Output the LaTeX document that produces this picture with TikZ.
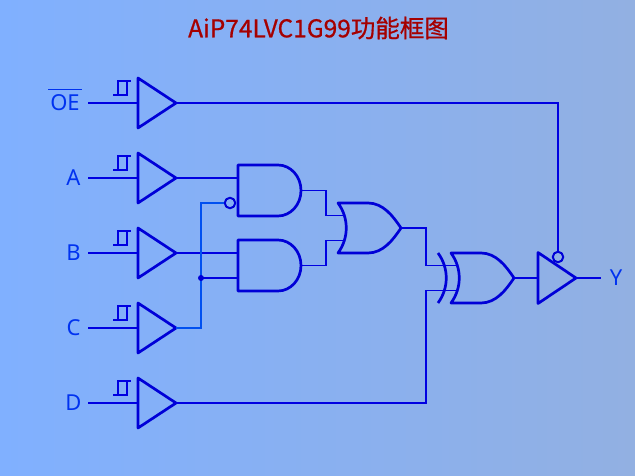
\documentclass[tikz,border=0pt]{standalone}
\usepackage{fontspec}
\setmainfont{Noto Sans}
\newfontfamily\cjk[FakeBold=0.7]{Noto Sans CJK SC}
\definecolor{bgleft}{RGB}{128,176,255}
\definecolor{bgright}{RGB}{146,176,226}
\definecolor{gateblue}{RGB}{0,0,215}
\definecolor{wireblue}{RGB}{0,0,225}
\definecolor{ctrlblue}{RGB}{0,80,240}
\definecolor{labelblue}{RGB}{0,50,240}
\definecolor{titlered}{RGB}{165,0,0}
\tikzset{
  gate/.style={draw=gateblue, line width=2.7pt, line join=round},
  wire/.style={draw=wireblue, line width=1.6pt},
  ctrl/.style={draw=ctrlblue, line width=1.4pt},
  pinlabel/.style={text=labelblue, font=\fontsize{22}{22}\selectfont, inner sep=0pt},
  bufgate/.pic={
    \draw[gate] (0,-25) -- (38,0) -- (0,25) -- cycle;
    \draw[wire] (-25,-8) -- (-11,-8) -- (-11,-22);
    \draw[wire] (-20,-8) -- (-20,-22) -- (-7,-22);
    \coordinate (-in) at (0,0);
    \coordinate (-out) at (38,0);
  },
  andgate/.pic={
    \draw[gate] (0,-25.5) -- (40,-25.5) arc[start angle=-90, end angle=90, x radius=23, y radius=25.5] -- (0,25.5) -- cycle;
    \coordinate (-a) at (0,-12.5);
    \coordinate (-b) at (0,12.5);
    \coordinate (-out) at (63,0);
  },
  orgate/.pic={
    \draw[gate] (0,-25) -- (30,-25) .. controls (45,-25) and (55,-12) .. (63,0)
      .. controls (55,12) and (45,25) .. (30,25) -- (0,25)
      .. controls (11,10) and (11,-10) .. (0,-25) -- cycle;
    \coordinate (-a) at (7,-12.5);
    \coordinate (-b) at (7,12.5);
    \coordinate (-out) at (63,0);
  }
}
\begin{document}
\begin{tikzpicture}[x=1pt, y=-1pt]
  \useasboundingbox[left color=bgleft, right color=bgright] (0,0) rectangle (635,476);
  \node[text=titlered, font=\cjk\fontsize{24.5}{25}\selectfont, inner sep=0pt] (title) at (318.5,28) {AiP74LVC1G99功能框图};

  % inputs
  \node[pinlabel, anchor=base] (oe) at (65,110.5) {$\overline{\mbox{\rule{0pt}{20pt}\hspace{2pt}OE\hspace{2pt}}}$};
  \node[pinlabel] (a) at (73.5,178) {A};
  \node[pinlabel] (b) at (73.5,253) {B};
  \node[pinlabel] (c) at (73.5,328) {C};
  \node[pinlabel] (d) at (73.5,403) {D};
  \node[pinlabel] (y) at (616,278) {Y};
  \coordinate (inoe) at (88,103);
  \coordinate (ina) at (88,178);
  \coordinate (inb) at (88,253);
  \coordinate (inc) at (88,328);
  \coordinate (ind) at (88,403);
  \coordinate (outy) at (601,278);

  \pic (bufoe) at (138,103) {bufgate};
  \pic (bufa) at (138,178) {bufgate};
  \pic (bufb) at (138,253) {bufgate};
  \pic (bufc) at (138,328) {bufgate};
  \pic (bufd) at (138,403) {bufgate};

  % gates
  \pic (anda) at (238,190.5) {andgate};
  \pic (andb) at (238,265.5) {andgate};
  \pic (orab) at (338,228) {orgate};
  \pic (xorab) at (451,278) {orgate};
  \draw[gate] (438,253) .. controls (449,268) and (449,288) .. (438,303);

  % output buffer
  \coordinate (bufyin) at (538,278);
  \coordinate (bufyout) at (576,278);
  \draw[gate] (538,252.5) -- (bufyout) -- (538,303.5) -- cycle;

  % inverting pins
  \node[circle, gate, fill=none, minimum size=10.5pt, inner sep=0pt, line width=2pt] (nota) at (230,203) {};
  \node[circle, gate, fill=none, minimum size=10.5pt, inner sep=0pt, line width=2pt] (noty) at (558,257) {};

  % wires
  \draw[wire] (inoe) -- (bufoe-in);
  \draw[wire] (ina) -- (bufa-in);
  \draw[wire] (inb) -- (bufb-in);
  \draw[wire] (inc) -- (bufc-in);
  \draw[wire] (ind) -- (bufd-in);
  \draw[wire] (bufoe-out) -| (noty);
  \draw[wire] (bufa-out) -- (anda-a);
  \draw[wire] (bufb-out) -- (andb-a);
  \draw[ctrl] (bufc-out) -| (201,203) -- (nota);
  \coordinate (tap) at (201,278);
  \draw[wire] (tap) -- (andb-b);
  \fill[gateblue] (tap) circle[radius=3];
  \draw[wire] (anda-out) -- (326,190.5) |- (orab-a);
  \draw[wire] (andb-out) -- (326,265.5) |- (orab-b);
  \draw[wire] (orab-out) -- (426,228) |- (xorab-a);
  \draw[wire] (bufd-out) -- (426,403) |- (xorab-b);
  \draw[wire] (xorab-out) -- (bufyin);
  \draw[wire] (bufyout) -- (outy);
\end{tikzpicture}
\end{document}
